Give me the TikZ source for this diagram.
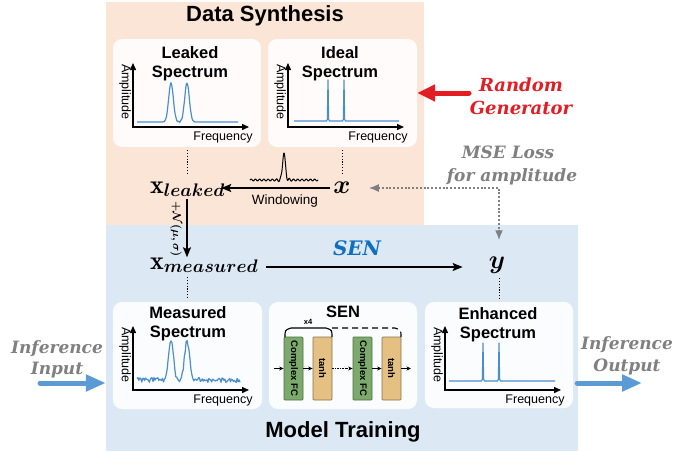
\RequirePackage{fix-cm}
\documentclass[tikz,border=0pt]{standalone}
\usepackage{amsmath,bm}
\usepackage{fontspec}
\setsansfont{Liberation Sans}
\newfontfamily\bifont{DejaVu Serif}
\usetikzlibrary{arrows.meta}
\definecolor{bgorange}{RGB}{251,229,214}
\definecolor{bgblue}{RGB}{220,233,245}
\definecolor{specblue}{RGB}{74,142,206}
\definecolor{senblue}{RGB}{16,112,192}
\definecolor{rgred}{RGB}{226,30,36}
\definecolor{lossgray}{RGB}{128,128,128}
\definecolor{fcgreen}{RGB}{124,170,108}
\definecolor{tanhtan}{RGB}{228,192,130}
\definecolor{arrblue}{RGB}{91,155,213}
\newcommand\spaxes[1]{%
  \draw[axisln] (20,24) -- (20,88) -- (136,88);
  \node[axl, rotate=-90] (#1amp) at (12,53) {Amplitude};
  \node[axl] (#1frq) at (110,98) {Frequency};
}
\begin{document}
\begin{tikzpicture}[x=1pt,y=-1pt,
  declare function={gb(\t)=exp(-min(\t*\t,15));},
  panel/.style={rounded corners=9pt, fill=white, fill opacity=0.88, draw=none, inner sep=0pt},
  ttl/.style={font=\sffamily\bfseries\fontsize{16.5}{19.5}\selectfont, align=center, inner sep=0pt},
  axl/.style={font=\sffamily\fontsize{12.5}{14}\selectfont, inner sep=0pt},
  axisln/.style={line width=1.4pt, {Triangle[length=7pt,width=6pt]}-{Triangle[length=7pt,width=6pt]}},
  spec/.style={specblue, line width=1.2pt, line join=round},
  mathlbl/.style={font=\fontsize{26}{30}\selectfont, inner sep=0pt},
  bilbl/.style={font=\bifont\bfseries\itshape\fontsize{17}{22}\selectfont, inner sep=0pt, anchor=base},
  dotln/.style={line width=1pt, dash pattern=on 1.2pt off 1.6pt},
  arr/.style={line width=1.4pt, -{Stealth[length=10pt,width=8pt,inset=2pt]}},
  blk/.style={minimum width=19pt, minimum height=63pt, inner sep=0pt, line width=0.7pt, rounded corners=1pt},
  blktxt/.style={font=\sffamily\bfseries\fontsize{9.5}{10}\selectfont, rotate=-90, inner sep=0pt},
  sarr/.style={line width=0.8pt, -{Stealth[length=4.5pt,width=4pt]}},
  bigarr/.style={line width=5pt, line cap=round, -{Triangle[length=20pt,width=16pt]}}
]
\useasboundingbox (0,0) rectangle (673,451);
% backgrounds
\fill[bgorange] (106,2) rectangle (424,225);
\fill[bgblue] (106,225) rectangle (578,451);
\node[font=\sffamily\bfseries\fontsize{22}{24}\selectfont, inner sep=0pt] (ds) at (265,16) {Data Synthesis};
\node[font=\sffamily\bfseries\fontsize{22}{24}\selectfont, inner sep=0pt] (mt) at (343,432) {Model Training};
% panels
\node[panel, minimum width=148pt, minimum height=108pt] (pL) at (187,93) {};
\node[panel, minimum width=149pt, minimum height=108pt] (pI) at (342.5,93) {};
\node[panel, minimum width=149pt, minimum height=107pt] (pM) at (187.5,355.5) {};
\node[panel, minimum width=148pt, minimum height=107pt] (pS) at (343,355.5) {};
\node[panel, minimum width=148pt, minimum height=106pt] (pE) at (499,355) {};
% leaked
\begin{scope}[shift={(113,39)}]
  \spaxes{L}
  \node[ttl, anchor=north] (Lt) at (77,7) {Leaked\\Spectrum};
  \draw[spec] plot[domain=24:125, samples=220, smooth] (\x, {83 - 39*(gb((\x-58)/3.3) + gb((\x-74)/3.3)) + 0.6*sin(140*(\x-66))*gb((\x-66)/14)});
\end{scope}
% ideal
\begin{scope}[shift={(268,39)}]
  \spaxes{I}
  \node[ttl, anchor=north] (It) at (72,7) {Ideal\\Spectrum};
  \draw[spec] (26,82) -- (58.6,82) -- (59.4,80) -- (60,41) -- (60.6,80) -- (61.4,82) -- (74.6,82) -- (75.4,80) -- (76,41) -- (76.6,80) -- (77.4,82) -- (131,82);
\end{scope}
% measured
\begin{scope}[shift={(113,302)}]
  \spaxes{M}
  \node[ttl, anchor=north] (Mt) at (75,4) {Measured\\Spectrum};
  \pgfmathsetseed{17}
  \draw[spec] plot[domain=24:127, samples=110] (\x, {78 - 40*(gb((\x-58)/3.4) + gb((\x-74)/3.4)) + 2.4*rand});
\end{scope}
% enhanced
\begin{scope}[shift={(425,302)}]
  \spaxes{E}
  \node[ttl, anchor=north] (Et) at (73,5) {Enhanced\\Spectrum};
  \draw[spec] (24,79) -- (56.6,79) -- (57.4,77) -- (58,41) -- (58.6,77) -- (59.4,79) -- (72.6,79) -- (73.4,77) -- (74,41) -- (74.6,77) -- (75.4,79) -- (130,79);
\end{scope}
% SEN panel
\node[ttl] (senT) at (343,312) {SEN};
\node[blk, fill=fcgreen, draw=fcgreen!65!black] (cf1) at (293.5,368.5) {};
\node[blk, fill=tanhtan, draw=tanhtan!60!black] (th1) at (322.5,368.5) {};
\node[blk, fill=fcgreen, draw=fcgreen!65!black] (cf2) at (362.5,368.5) {};
\node[blk, fill=tanhtan, draw=tanhtan!60!black] (th2) at (391.5,368.5) {};
\node[blktxt] (cf1t) at (cf1) {Complex FC};
\node[blktxt] (th1t) at (th1) {tanh};
\node[blktxt] (cf2t) at (cf2) {Complex FC};
\node[blktxt] (th2t) at (th2) {tanh};
\coordinate (sin) at (274,368.5);
\coordinate (sout) at (411,368.5);
\draw[sarr] (sin) -- (cf1);
\draw[sarr] (cf1) -- (th1);
\draw[sarr, dash pattern=on 2pt off 1pt on 0.6pt off 1pt] (th1) -- (cf2);
\draw[sarr] (cf2) -- (th2);
\draw[sarr] (th2) -- (sout);
\draw[line width=1.1pt] (285,337) .. controls (285,330) .. (291,328) -- (326,328) .. controls (332,330) .. (332,337);
\draw[line width=1.1pt, dash pattern=on 6pt off 4pt] (332,328) -- (395,328) .. controls (401,330) .. (401,337);
\node[font=\sffamily\bfseries\fontsize{7.5}{8}\selectfont, inner sep=0pt] (x4) at (308,322) {x4};
% math labels
\node[mathlbl, anchor=base west] (xl) at (150,193) {$\mathbf{x}_{\bm{leaked}}$};
\node[mathlbl, anchor=base] (xx) at (342,193) {$\bm{x}$};
\node[mathlbl, anchor=base west] (xm) at (150,269) {$\mathbf{x}_{\bm{measured}}$};
\node[mathlbl, anchor=base] (yy) at (497,268) {$\bm{y}$};
% windowing
\coordinate (wy) at (0,188);
\draw[arr, shorten <=3pt, shorten >=-4pt] (xx.west |- wy) -- (xl.east |- wy);
\node[axl, font=\sffamily\fontsize{13.5}{15}\selectfont] (win) at (285,201) {Windowing};
\draw[line width=1pt, line join=round] plot[domain=-34:34, samples=241, smooth] ({284+\x}, {180 - 27*gb(\x/2.0) - (0.9+2.2*gb(\x/5))*sin(85*\x)*(1-gb(\x/2.6))});
% noise arrow
\coordinate (nx) at (187,0);
\draw[arr] (xl.south -| nx) ++(0,2) -- (xm.north -| nx);
\node[font=\fontsize{11.5}{13}\selectfont, rotate=-90, inner sep=0pt] (noise) at (176,229) {$\bm{+\mathcal{N}(\mu,\sigma)}$};
% SEN arrow
\coordinate (sy) at (0,267);
\draw[arr, shorten <=8pt, shorten >=26pt] (xm.east |- sy) -- (yy.west |- sy);
\node[font=\bifont\bfseries\itshape\fontsize{20}{22}\selectfont, text=senblue, inner sep=0pt, anchor=base] (senl) at (357,255.5) {SEN};
% dotted
\draw[dotln, shorten <=3pt, shorten >=8pt] (pL.south) -- (pL.south |- xl.north);
\draw[dotln, shorten <=3pt, shorten >=8pt] (pI.south) -- (pI.south |- xx.north);
\draw[dotln, shorten <=4pt, shorten >=3pt] (xm.south -| pM.north) -- (pM.north);
\draw[dotln, shorten <=5pt, shorten >=2pt] (yy.south -| pE.north) -- (pE.north);
% MSE loss
\coordinate (gc) at (499,188);
\draw[lossgray, line width=1.6pt, dash pattern=on 2pt off 1.8pt, {Latex[length=10pt,width=8pt]}-{Latex[length=10pt,width=8pt]}, shorten <=18pt, shorten >=16pt] (xx.east |- gc) -- (gc) -- (gc |- yy.north);
\node[bilbl, text=lossgray] (mse1) at (508,158) {MSE Loss};
\node[bilbl, text=lossgray] (mse2) at (512,181) {for amplitude};
% random generator
\node[bilbl, text=rgred, font=\bifont\bfseries\itshape\fontsize{18}{22}\selectfont] (rg1) at (521,91) {Random};
\node[bilbl, text=rgred, font=\bifont\bfseries\itshape\fontsize{18}{22}\selectfont] (rg2) at (521,114) {Generator};
\coordinate (rs) at (469,93);
\draw[rgred, line width=5pt, line cap=round, -{Triangle[length=18pt,width=16pt]}] (rs) -- (pI.east |- rs);
% inference
\node[bilbl, text=lossgray] (in1) at (57,353) {Inference};
\node[bilbl, text=lossgray] (in2) at (57,374) {Input};
\coordinate (inA) at (40,383);
\draw[bigarr, arrblue, shorten >=7pt] (inA) -- (pM.west |- inA);
\node[bilbl, text=lossgray] (out1) at (627,349) {Inference};
\node[bilbl, text=lossgray] (out2) at (627,371) {Output};
\coordinate (outA) at (642,383);
\draw[bigarr, arrblue, shorten <=4pt] (pE.east |- outA) -- (outA);
\end{tikzpicture}
\end{document}
